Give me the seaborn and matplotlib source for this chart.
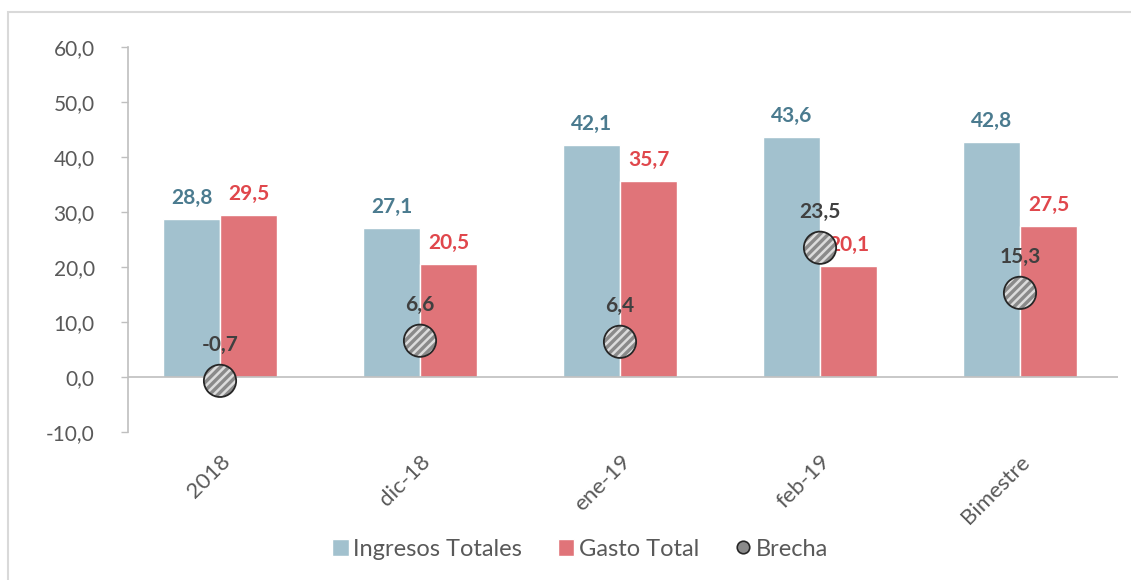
import matplotlib
matplotlib.use("Agg")
import matplotlib.pyplot as plt
import seaborn as sns
import pandas as pd
from matplotlib.patches import Patch, Rectangle
from matplotlib.lines import Line2D
from matplotlib.ticker import FuncFormatter

sns.set_style("white")
plt.rcParams['font.family'] = ['Lato', 'DejaVu Sans']
plt.rcParams['hatch.linewidth'] = 1.8

periodos = ['2018', 'dic-18', 'ene-19', 'feb-19', 'Bimestre']
ingresos = [28.8, 27.1, 42.1, 43.6, 42.8]
gasto = [29.5, 20.5, 35.7, 20.1, 27.5]
brecha = [-0.7, 6.6, 6.4, 23.5, 15.3]

c_ing = '#a2c1ce'
c_gas = '#e07479'
c_ing_txt = '#4b7b8f'
c_gas_txt = '#e0474c'
c_txt = '#595959'
c_axis = '#bfbfbf'


def coma(v):
    return f"{v:.1f}".replace('.', ',')


df = pd.DataFrame({
    'periodo': periodos * 2,
    'valor': ingresos + gasto,
    'serie': ['Ingresos Totales'] * 5 + ['Gasto Total'] * 5,
})

fig = plt.figure(figsize=(11.31, 5.8), dpi=100)
ax = fig.add_axes([128 / 1131, 1 - 432 / 580, (1118 - 128) / 1131, (432 - 47) / 580])

sns.barplot(data=df, x='periodo', y='valor', hue='serie', order=periodos,
            palette=[c_ing, c_gas], width=0.57, gap=0, saturation=1,
            legend=False, ax=ax)

ax.bar_label(ax.containers[0], labels=[coma(v) for v in ingresos], padding=8,
             color=c_ing_txt, fontsize=15, fontweight='bold')
ax.bar_label(ax.containers[1], labels=[coma(v) for v in gasto], padding=8,
             color=c_gas_txt, fontsize=15, fontweight='bold')

# relleno rayado y borde por separado para que las rayas sean claras
ax.scatter(range(len(periodos)), brecha, s=540, facecolor='#8a8a8a',
           edgecolor='#dcdcdc', linewidth=0, hatch='////', zorder=5)
ax.scatter(range(len(periodos)), brecha, s=540, facecolor='none',
           edgecolor='#262626', linewidth=1.3, zorder=6)
for i, v in enumerate(brecha):
    ax.annotate(coma(v), (i, v), xytext=(0, 26), textcoords='offset points',
                ha='center', va='center', fontsize=15, fontweight='bold',
                color='#404040', zorder=7)

ax.set_ylim(-10, 60)
ax.set_xlim(-0.46, 4.49)
ax.axhline(0, color=c_axis, lw=1.2, zorder=1)
ax.set_yticks(range(-10, 61, 10))
ax.yaxis.set_major_formatter(FuncFormatter(lambda v, p: coma(v)))
ax.tick_params(axis='y', length=5, width=1, color=c_axis, pad=19,
               labelsize=15, labelcolor=c_txt, left=True)
ax.tick_params(axis='x', length=0, pad=14, labelsize=16, labelcolor=c_txt)
plt.setp(ax.get_xticklabels(), rotation=45, ha='right', rotation_mode='anchor')
ax.set_xlabel('')
ax.set_ylabel('')
for s in ['top', 'right', 'bottom']:
    ax.spines[s].set_visible(False)
ax.spines['left'].set_color(c_axis)
ax.spines['left'].set_linewidth(1.2)

handles = [
    Patch(facecolor=c_ing, label='Ingresos Totales'),
    Patch(facecolor=c_gas, label='Gasto Total'),
    Line2D([], [], marker='o', linestyle='', markersize=9, markerfacecolor='#8a8a8a',
           markeredgecolor='#262626', markeredgewidth=1.2, label='Brecha'),
]
fig.legend(handles=handles, loc='center', bbox_to_anchor=(0.513, 1 - 549 / 580),
           ncol=3, frameon=False, fontsize=17, handlelength=0.7, handleheight=0.7,
           handletextpad=0.2, columnspacing=1.5, labelcolor=c_txt)

fig.patches.append(Rectangle((8 / 1131, -0.1), 1.2, 1 - 12 / 580 + 0.1,
                             transform=fig.transFigure, fill=False,
                             edgecolor='#d9d9d9', lw=1.5))

fig.savefig('out.png', dpi=100)
